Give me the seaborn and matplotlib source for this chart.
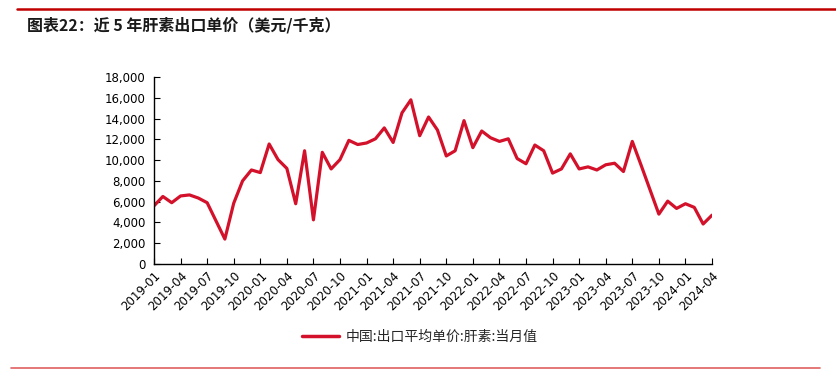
import matplotlib
matplotlib.use("Agg")
import matplotlib.pyplot as plt
import seaborn as sns
import pandas as pd
from matplotlib.lines import Line2D

# ---- data ----
months = [d.strftime("%Y-%m") for d in pd.date_range("2019-01-01", "2024-04-01", freq="MS")]
prices = [5600, 6500, 5900, 6550, 6650, 6350, 5900, 4150, 2400, 5850,
          8000, 9050, 8800, 11550, 10050, 9200, 5800, 10900, 4250, 10750,
          9150, 10050, 11900, 11500, 11650, 12050, 13100, 11700, 14550, 15800,
          12350, 14150, 12900, 10400, 10900, 13800, 11200, 12800, 12150, 11800,
          12050, 10150, 9650, 11450, 10900, 8750, 9150, 10600, 9150, 9350,
          9050, 9550, 9700, 8900, 11800, 9500, 7150, 4800, 6050, 5350,
          5800, 5450, 3850, 4700]
series_name = "中国:出口平均单价:肝素:当月值"
title = "图表22：近 5 年肝素出口单价（美元/千克）"
yticks = list(range(0, 18001, 2000))

df = pd.DataFrame({"idx": range(len(months)), "month": months, "price": prices})

sns.set_theme(style="white")
plt.rcParams["font.family"] = ["Noto Sans CJK SC", "DejaVu Sans"]

W, H = 837, 377
fig = plt.figure(figsize=(W / 100, H / 100), dpi=100)
ax = fig.add_axes([154 / W, 1 - 264 / H, (712 - 154) / W, (264 - 77) / H])

red = "#D3112A"
sns.lineplot(data=df, x="idx", y="price", ax=ax, color=red, linewidth=2.3, legend=False)

ax.set_xlim(0, len(months) - 1)
ax.set_ylim(0, 18000)
ax.set_yticks(yticks)
ax.set_yticklabels([f"{v:,}" for v in yticks], fontsize=8.5, family="DejaVu Sans")
xt = list(range(0, len(months), 3))
ax.set_xticks(xt)
ax.set_xticklabels([months[i] for i in xt], rotation=45, ha="right",
                   rotation_mode="anchor", fontsize=8.5, family="DejaVu Sans")
ax.set_xlabel("")
ax.set_ylabel("")
for s in ["top", "right"]:
    ax.spines[s].set_visible(False)
for s in ["left", "bottom"]:
    ax.spines[s].set_color("black")
    ax.spines[s].set_linewidth(1.0)
ax.tick_params(axis="both", direction="in", length=4, width=0.8, color="black",
               labelcolor="black", pad=4, left=True, bottom=True)
ax.tick_params(axis="y", pad=6)
ax.grid(False)

# legend
handle = Line2D([0], [0], color=red, linewidth=2.5)
fig.legend([handle], [series_name], loc="center", bbox_to_anchor=(420 / W, 1 - 337 / H),
           frameon=False, fontsize=10, handlelength=2.6, handletextpad=0.5)

# title and decorative lines
fig.add_artist(Line2D([17 / W, 1.0], [1 - 9 / H, 1 - 9 / H], color="#C00000", linewidth=1.8))
fig.text(27 / W, 1 - 25 / H, title, fontsize=11.5, fontweight="bold", color="#1a1a1a",
         va="center", ha="left")
fig.add_artist(Line2D([11 / W, 820 / W], [1 - 368 / H, 1 - 368 / H], color="#E06060", linewidth=1.2))

fig.savefig("out.png", dpi=100, facecolor="white")
